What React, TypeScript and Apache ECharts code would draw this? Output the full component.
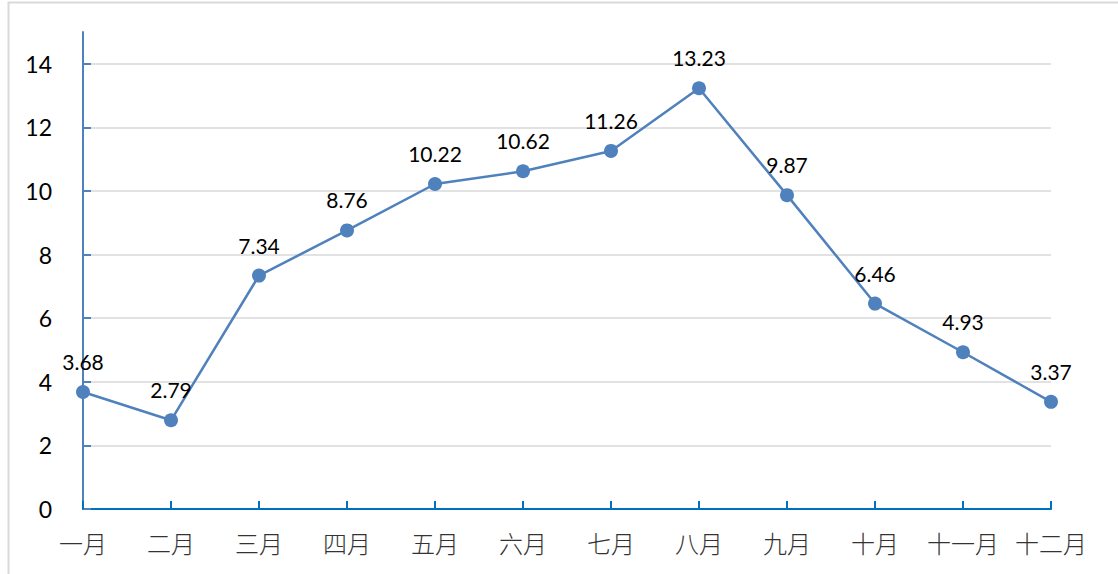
import React, { useEffect, useRef } from "react";
import * as echarts from "echarts";

const categories = ["一月", "二月", "三月", "四月", "五月", "六月", "七月", "八月", "九月", "十月", "十一月", "十二月"];
const values = [3.68, 2.79, 7.34, 8.76, 10.22, 10.62, 11.26, 13.23, 9.87, 6.46, 4.93, 3.37];

export default function App() {
  const ref = useRef<HTMLDivElement>(null);
  useEffect(() => {
    const chart = echarts.init(ref.current!, null, { renderer: "svg" });
    chart.setOption({
      animation: false,
      backgroundColor: "#fff",
      graphic: [
        {
          type: "rect",
          shape: { x: 8.5, y: 2.5, width: 1120, height: 600 },
          style: { fill: "none", stroke: "#D9D9D9", lineWidth: 2 },
          silent: true,
        },
      ],
      grid: { left: 83, right: 67, top: 32, bottom: 65 },
      xAxis: {
        type: "category",
        data: categories,
        boundaryGap: false,
        axisLine: { lineStyle: { color: "#0070C0", width: 2 } },
        axisTick: { inside: true, length: 8, interval: 0, lineStyle: { color: "#0070C0", width: 2 } },
        axisLabel: {
          interval: 0,
          hideOverlap: false,
          margin: 21,
          fontSize: 24,
          color: "#333",
          fontFamily: "Noto Sans CJK SC",
          fontWeight: 300,
        },
      },
      yAxis: {
        type: "value",
        min: 0,
        max: 15,
        interval: 2,
        axisLine: { show: true, lineStyle: { color: "#4F81BD", width: 2 } },
        axisTick: { show: true, inside: true, length: 8, lineStyle: { color: "#4F81BD", width: 2 } },
        axisLabel: {
          margin: 31,
          fontSize: 23,
          color: "#000",
          fontFamily: "Lato",
          showMaxLabel: false,
        },
        splitLine: { show: true, showMaxLine: false, lineStyle: { color: "#D9D9D9", width: 1.5 } },
      },
      series: [
        {
          type: "line",
          data: values,
          symbol: "circle",
          symbolSize: 14,
          lineStyle: { color: "#4F81BD", width: 2.5 },
          itemStyle: { color: "#4F81BD" },
          label: {
            show: true,
            position: "top",
            distance: 13,
            fontSize: 21,
            color: "#000",
            fontFamily: "Lato",
          },
        },
      ],
    });
    return () => chart.dispose();
  }, []);
  return (
    <div
      ref={ref}
      style={{ position: "absolute", left: 0, top: 0, width: 1118, height: 574 }}
    />
  );
}
